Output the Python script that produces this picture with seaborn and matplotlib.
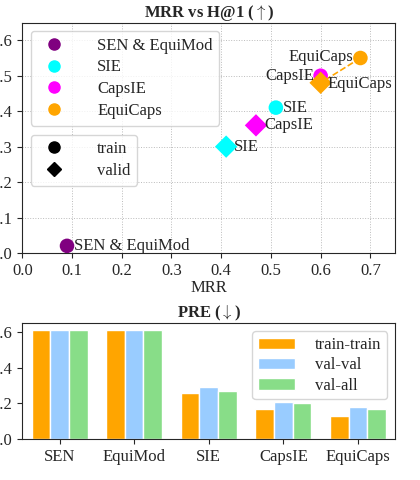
import matplotlib
matplotlib.use("Agg")
import matplotlib.pyplot as plt
import seaborn as sns
import pandas as pd
from matplotlib.lines import Line2D

sns.set_style("ticks")
plt.rcParams['font.family'] = ['Liberation Serif', 'DejaVu Serif']
plt.rcParams['mathtext.fontset'] = 'cm'

models = ["SEN & EquiMod", "SIE", "CapsIE", "EquiCaps"]
colors = ["purple", "cyan", "magenta", "orange"]
train_mrr = [0.09, 0.51, 0.60, 0.68]
train_h1 = [0.02, 0.41, 0.50, 0.55]
valid_models = ["SIE", "CapsIE", "EquiCaps"]
valid_mrr = [0.41, 0.47, 0.60]
valid_h1 = [0.30, 0.36, 0.48]

bar_cats = ["SEN", "EquiMod", "SIE", "CapsIE", "EquiCaps"]
tt = [0.61, 0.61, 0.26, 0.17, 0.13]
vv = [0.61, 0.61, 0.29, 0.21, 0.18]
va = [0.61, 0.61, 0.27, 0.20, 0.17]
bar_colors = ["orange", "#99ccff", "#88dd88"]

fs = 12
fig = plt.figure(figsize=(4.2, 4.8), dpi=100)
ax1 = fig.add_axes([0.053, 0.473, 0.888, 0.48])
ax2 = fig.add_axes([0.053, 0.085, 0.888, 0.242])

cmap = dict(zip(models, colors))
dt = pd.DataFrame({"m": models, "x": train_mrr, "y": train_h1})
dv = pd.DataFrame({"m": valid_models, "x": valid_mrr, "y": valid_h1})
ax1.plot([train_mrr[3], valid_mrr[2]], [train_h1[3], valid_h1[2]], ls="--", color="orange", lw=1.2, zorder=1)
sns.scatterplot(data=dt, x="x", y="y", hue="m", palette=cmap, s=110, marker="o", edgecolor="none", ax=ax1, legend=False, zorder=3)
sns.scatterplot(data=dv, x="x", y="y", hue="m", palette=cmap, s=130, marker="D", edgecolor="none", ax=ax1, legend=False, zorder=3)
ax1.text(0.104, 0.02, "SEN & EquiMod", va="center", ha="left", fontsize=fs)
ax1.text(0.524, 0.41, "SIE", va="center", ha="left", fontsize=fs)
ax1.text(0.587, 0.50, "CapsIE", va="center", ha="right", fontsize=fs)
ax1.text(0.665, 0.553, "EquiCaps", va="center", ha="right", fontsize=fs)
ax1.text(0.426, 0.30, "SIE", va="center", ha="left", fontsize=fs)
ax1.text(0.487, 0.36, "CapsIE", va="center", ha="left", fontsize=fs)
ax1.text(0.614, 0.478, "EquiCaps", va="center", ha="left", fontsize=fs)
ax1.set_xlim(0, 0.75); ax1.set_ylim(0, 0.65)
ax1.set_xticks([0, .1, .2, .3, .4, .5, .6, .7])
ax1.set_yticks([0, .1, .2, .3, .4, .5, .6])
ax1.set_xlabel("MRR", fontsize=fs, labelpad=1)
ax1.set_ylabel("")
ax1.set_title(r"MRR vs H@1 ($\uparrow$)", fontweight="bold", fontsize=fs, pad=4)
ax1.grid(True, ls=":", color="#bbbbbb", lw=0.7)
ax1.tick_params(labelsize=fs)
h1 = [Line2D([], [], marker="o", ls="", color=c, markersize=8) for c in colors]
leg1 = ax1.legend(h1, models, loc="upper left", fontsize=fs, handletextpad=1.6, borderpad=0.4,
                  labelspacing=0.35, framealpha=0.8)
ax1.add_artist(leg1)
h2 = [Line2D([], [], marker="o", ls="", color="k", markersize=8), Line2D([], [], marker="D", ls="", color="k", markersize=7)]
ax1.legend(h2, ["train", "valid"], loc="upper left", bbox_to_anchor=(0.0, 0.55), fontsize=fs,
           handletextpad=1.6, borderpad=0.4, labelspacing=0.35, framealpha=0.8)

bd = pd.DataFrame({"cat": bar_cats * 3, "val": tt + vv + va,
                   "split": ["train-train"] * 5 + ["val-val"] * 5 + ["val-all"] * 5})
sns.barplot(data=bd, x="cat", y="val", hue="split", palette=bar_colors, width=0.75, ax=ax2, saturation=1)
ax2.set_xlabel(""); ax2.set_ylabel("")
ax2.set_ylim(0, 0.65)
ax2.set_yticks([0, .2, .4, .6])
ax2.set_title(r"PRE ($\downarrow$)", fontweight="bold", fontsize=fs, pad=4)
ax2.tick_params(labelsize=fs)
ax2.legend(loc="upper right", fontsize=fs, title=None, handlelength=2.2, handletextpad=1.2,
           borderpad=0.35, labelspacing=0.25)

fig.savefig("out.png", dpi=100)
